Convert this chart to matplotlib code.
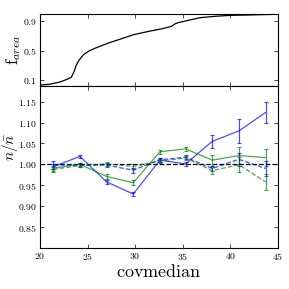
import numpy as np
import matplotlib
matplotlib.use('Agg')
import matplotlib.pyplot as plt

plt.rcParams['mathtext.fontset'] = 'cm'
plt.rcParams['font.family'] = 'serif'
plt.rcParams['font.serif'] = ['DejaVu Serif']

# cumulative area fraction vs covmedian (top panel)
cov_curve = [20.0, 21.0, 22.1, 22.8, 23.3, 23.6, 23.8, 24.1, 24.6, 25.2, 25.9,
             27.1, 28.5, 29.9, 31.5, 32.9, 33.8, 34.2, 34.5, 35.5, 36.8,
             38.5, 40.0, 42.0, 43.5, 45.0]
f_area = [0.035, 0.045, 0.075, 0.11, 0.14, 0.22, 0.30, 0.37, 0.45, 0.50, 0.54,
          0.60, 0.66, 0.72, 0.765, 0.80, 0.83, 0.865, 0.88, 0.91, 0.948,
          0.968, 0.98, 0.985, 0.99, 0.995]

# binned density ratio (bottom panel)
cov_bins = [21.4, 24.2, 27.0, 29.8, 32.6, 35.3, 38.1, 40.9, 43.7]
blue_solid = [0.994, 1.019, 0.958, 0.929, 1.010, 1.001, 1.055, 1.080, 1.124]
blue_solid_err = [0.006, 0.004, 0.004, 0.005, 0.005, 0.005, 0.015, 0.028, 0.025]
green_solid = [0.991, 1.000, 0.971, 0.956, 1.030, 1.037, 1.010, 1.021, 1.016]
green_solid_err = [0.006, 0.004, 0.005, 0.006, 0.005, 0.005, 0.013, 0.020, 0.020]
blue_dash = [0.999, 0.998, 0.998, 0.986, 1.011, 1.017, 0.990, 1.012, 0.990]
blue_dash_err = [0.010, 0.004, 0.005, 0.006, 0.005, 0.005, 0.006, 0.015, 0.018]
green_dash = [0.988, 0.997, 1.001, 0.995, 1.008, 1.015, 0.985, 0.999, 0.958]
green_dash_err = [0.006, 0.004, 0.004, 0.005, 0.005, 0.005, 0.008, 0.018, 0.020]

fig = plt.figure(figsize=(2.89, 2.89), dpi=100)
ax1 = fig.add_axes([0.138, 0.702, 0.824, 0.250])
ax2 = fig.add_axes([0.138, 0.142, 0.824, 0.560])

ax1.plot(cov_curve, f_area, color='k', lw=0.9)
ax1.set_xlim(20, 45)
ax1.set_ylim(0.02, 1.0)
ax1.set_yticks([0.1, 0.5, 0.9])
ax1.set_yticklabels([r'$0.1$', r'$0.5$', r'$0.9$'])
ax1.set_xticks([20, 25, 30, 35, 40, 45])
ax1.set_xticklabels([])
ax1.set_ylabel(r'$\mathrm{f}_{area}$', fontsize=12)
ax1.yaxis.set_label_coords(-0.07, 0.5)

kw = dict(capsize=1.5, elinewidth=0.9, lw=0.9, capthick=0.8)
ax2.errorbar(cov_bins, blue_solid, yerr=blue_solid_err, color='b', alpha=0.7, ls='-', **kw)
ax2.errorbar(cov_bins, green_solid, yerr=green_solid_err, color='g', alpha=0.7, ls='-', **kw)
ax2.errorbar(cov_bins, blue_dash, yerr=blue_dash_err, color='b', alpha=0.7, ls='--', **kw)
ax2.errorbar(cov_bins, green_dash, yerr=green_dash_err, color='g', alpha=0.7, ls='--', **kw)
ax2.axhline(1.0, color='k', ls='--', lw=0.9)
ax2.set_xlim(20, 45)
ax2.set_ylim(0.80, 1.187)
yt = [0.85, 0.90, 0.95, 1.00, 1.05, 1.10, 1.15]
ax2.set_yticks(yt)
ax2.set_yticklabels([r'$%.2f$' % v for v in yt])
xt = [20, 25, 30, 35, 40, 45]
ax2.set_xticks(xt)
ax2.set_xticklabels([r'$%d$' % v for v in xt])
ax2.set_xlabel(r'$\mathrm{covmedian}$', fontsize=13, labelpad=1)
ax2.set_ylabel(r'$n/\bar{n}$', fontsize=11)
ax2.yaxis.set_label_coords(-0.085, 0.62)

for ax in (ax1, ax2):
    ax.tick_params(direction='in', top=True, right=True, labelsize=7,
                   length=3, width=0.5, pad=2)
    for s in ax.spines.values():
        s.set_linewidth(0.8)

fig.savefig('out.png', dpi=100)
